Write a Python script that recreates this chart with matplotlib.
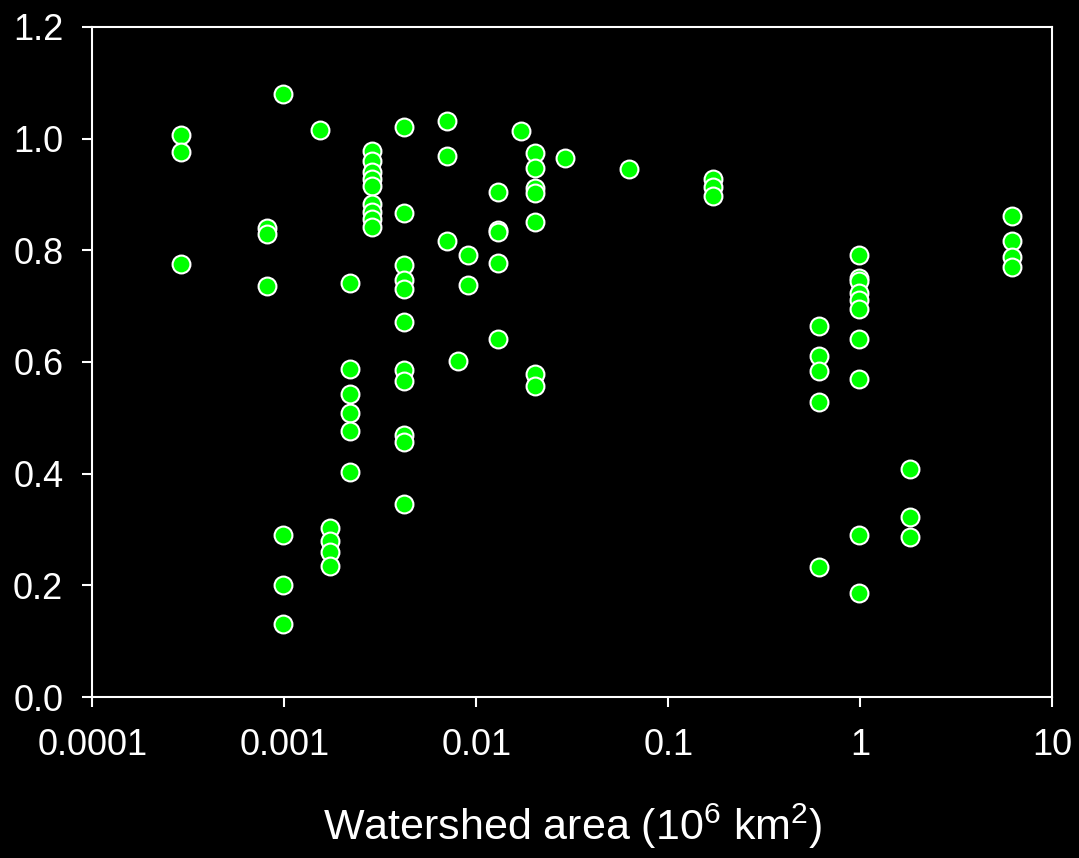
import numpy as np
import matplotlib
matplotlib.use('Agg')
import matplotlib.pyplot as plt
from matplotlib.ticker import NullLocator

plt.rcParams['font.family'] = ['Liberation Sans', 'DejaVu Sans']
plt.rcParams['mathtext.fontset'] = 'custom'
plt.rcParams['mathtext.rm'] = 'Liberation Sans'
plt.rcParams['mathtext.it'] = 'Liberation Sans'

# watershed area (10^6 km2) per site, and the values read at each site
site_area = [0.00029, 0.00081, 0.00098, 0.00153, 0.00173, 0.00219, 0.00287,
             0.00419, 0.00705, 0.00804, 0.00900, 0.0130, 0.0170, 0.0201,
             0.0290, 0.0623, 0.170, 0.610, 0.982, 1.81, 6.13]
site_values = [
    [1.006, 0.976, 0.776],
    [0.840, 0.829, 0.736],
    [1.080, 0.290, 0.200, 0.130],
    [1.015],
    [0.303, 0.279, 0.260, 0.235],
    [0.741, 0.587, 0.542, 0.509, 0.476, 0.403],
    [0.977, 0.960, 0.941, 0.927, 0.915, 0.883, 0.869, 0.856, 0.841],
    [1.021, 0.867, 0.774, 0.747, 0.730, 0.671, 0.586, 0.566, 0.469, 0.457, 0.345],
    [1.032, 0.969, 0.816],
    [0.601],
    [0.791, 0.738],
    [0.904, 0.836, 0.832, 0.777, 0.641],
    [1.014],
    [0.975, 0.948, 0.911, 0.902, 0.850, 0.579, 0.557],
    [0.966],
    [0.946],
    [0.928, 0.913, 0.898],
    [0.665, 0.610, 0.583, 0.529, 0.232],
    [0.791, 0.751, 0.745, 0.723, 0.711, 0.694, 0.641, 0.570, 0.290, 0.186],
    [0.408, 0.322, 0.286],
    [0.861, 0.816, 0.788, 0.771],
]

x = np.concatenate([[a] * len(v) for a, v in zip(site_area, site_values)])
y = np.concatenate(site_values)

xticks = [0.0001, 0.001, 0.01, 0.1, 1, 10]
xtick_labels = ['0.0001', '0.001', '0.01', '0.1', '1', '10']
yticks = [0.0, 0.2, 0.4, 0.6, 0.8, 1.0, 1.2]

fig = plt.figure(figsize=(10.79, 8.58), dpi=100, facecolor='black')
ax = fig.add_axes([0.0857, 0.1876, 0.8897, 0.781])
ax.set_facecolor('black')

ax.scatter(x, y, s=165, c='#00ff00', edgecolors='white', linewidths=1.5, zorder=3, clip_on=False)

ax.set_xscale('log')
ax.set_xlim(1e-4, 10)
ax.set_ylim(0, 1.2)
ax.set_xticks(xticks)
ax.set_xticklabels(xtick_labels)
ax.xaxis.set_minor_locator(NullLocator())
ax.set_yticks(yticks)
ax.set_yticklabels(['%.1f' % t for t in yticks])

for s in ax.spines.values():
    s.set_color('white')
    s.set_linewidth(1.5)
ax.tick_params(colors='white', labelsize=26, length=7, width=1.5, direction='out')
ax.tick_params(axis='x', pad=15)
ax.tick_params(axis='y', pad=14)

ax.set_xlabel('Watershed area (10$^{6}$ km$^{2}$)', color='white', fontsize=31, labelpad=28)

fig.savefig('out.png', dpi=100, facecolor='black')
